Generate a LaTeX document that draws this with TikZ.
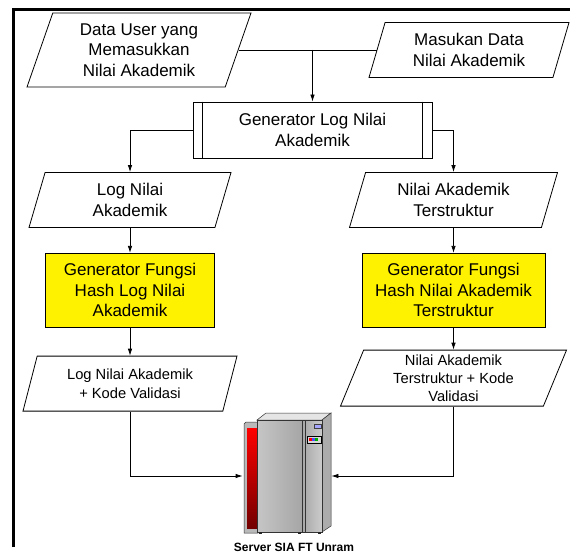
\documentclass[tikz,border=0pt]{standalone}
\usepackage{fontspec}
\setmainfont{Liberation Sans}
\usetikzlibrary{arrows.meta, shapes.geometric, positioning}
\tikzset{
  datanode/.style={trapezium, trapezium left angle=64, trapezium right angle=116,
    trapezium stretches body, draw, inner sep=0pt, align=center,
    font=\fontsize{17}{20.5}\selectfont},
  datasmall/.style={datanode, font=\fontsize{14.7}{18.3}\selectfont},
  procnode/.style={rectangle, draw, inner sep=0pt, align=center,
    font=\fontsize{17}{20.5}\selectfont},
  hashnode/.style={procnode, fill=yellow},
}

\begin{document}
\begin{tikzpicture}[x=1pt, y=1pt, >={Latex[length=7pt,width=4.5pt]}, line width=0.8pt]
\useasboundingbox (0,0) rectangle (570,555);
% frame
\draw[line width=3pt] (13,8) -- (13,545) -- (571,545);

\node[datanode, minimum width=224pt, minimum height=74pt] (datauser) at (139,505) {Data User yang\\Memasukkan\\Nilai Akademik};
\node[datanode, minimum width=200pt, minimum height=55pt] (masukan) at (469,505) {Masukan Data\\Nilai Akademik};
\node[procnode, minimum width=239pt, minimum height=56pt] (genlog) at (312.5,425) {Generator Log Nilai\\Akademik};
\draw ([xshift=10pt]genlog.north west) -- ([xshift=10pt]genlog.south west);
\draw ([xshift=-10pt]genlog.north east) -- ([xshift=-10pt]genlog.south east);

% left column
\node[datanode, minimum width=202pt, minimum height=55pt] (lognilai) at (130,355) {Log Nilai\\Akademik};
\node[hashnode, minimum width=169pt, minimum height=74pt, below=25pt of lognilai] (hashlog) {Generator Fungsi\\Hash Log Nilai\\Akademik};
\node[datasmall, minimum width=214pt, minimum height=55pt, below=28pt of hashlog] (logkode) {Log Nilai Akademik\\+ Kode Validasi};

% right column
\node[datanode, minimum width=208pt, minimum height=55pt] (terstruktur) at (453.5,355) {Nilai Akademik\\Terstruktur};
\node[hashnode, minimum width=183pt, minimum height=74pt, below=25pt of terstruktur] (hashter) {Generator Fungsi\\Hash Nilai Akademik\\Terstruktur};
\node[datasmall, minimum width=226pt, minimum height=56pt, below=22pt of hashter] (terkode) {Nilai Akademik\\Terstruktur + Kode\\Validasi};

% server
\node[minimum width=88pt, minimum height=121pt, inner sep=0pt] (server) at (287,79) {};
\draw[gray!40!black, line width=0.5pt, fill=gray!55] (244,22) -- (244,131) -- (246,133) -- (258,133) -- (258,22) -- cycle;
\shade[top color=red, bottom color=red!45!black] (247,27) rectangle (257,127);
\draw[gray!40!black, line width=0.5pt, top color=gray!20, bottom color=gray!20] (257,135) -- (266,142) -- (331,142) -- (322,135) -- cycle;
\draw[gray!40!black, line width=0.5pt, fill=gray!65] (322,23) -- (331,29) -- (331,142) -- (322,135) -- cycle;
\draw[gray!40!black, line width=0.5pt, left color=gray!45, right color=gray!70] (257,23) rectangle (302,135);
\draw[gray!40!black, line width=0.5pt, left color=gray!70, right color=gray!40] (302,23) rectangle (322,135);
\draw[gray!40!black, line width=0.4pt] (305,23) -- (305,135);
\draw[gray!50!black, line width=0.4pt, fill=blue!35] (314,127) rectangle (321,131);
\draw[black, line width=0.5pt, fill=gray!30] (307,112) rectangle (321,119);
\fill[red] (309,114) rectangle (312,117);
\fill[blue!70] (312,114) rectangle (315,117);
\fill[green!70!black] (315,114) rectangle (318,117);
\foreach \fx in {259,298,318} \fill[gray!30!black] (\fx,21) rectangle (\fx+3,23);
\node[font=\bfseries\fontsize{12}{14}\selectfont, inner sep=0pt] (serverlabel) at (294,8) {Server SIA FT Unram};

% connectors
\draw (datauser.right side) -- (masukan.left side);
\draw[->] (genlog.north |- datauser.right side) -- (genlog.north);
\draw[->] (genlog.west) -| (lognilai.north);
\draw[->] (genlog.east) -| (terstruktur.north);
\draw[->] (lognilai.south) -- (lognilai.south |- hashlog.north);
\draw[->] (hashlog.south) -- (hashlog.south |- logkode.north);
\draw[->] (terstruktur.south) -- (terstruktur.south |- hashter.north);
\draw[->] (hashter.south) -- (hashter.south |- terkode.north);
\draw[->] (logkode.south) |- (server.west);
\draw[->] (terkode.south) |- (server.east);
\end{tikzpicture}
\end{document}
